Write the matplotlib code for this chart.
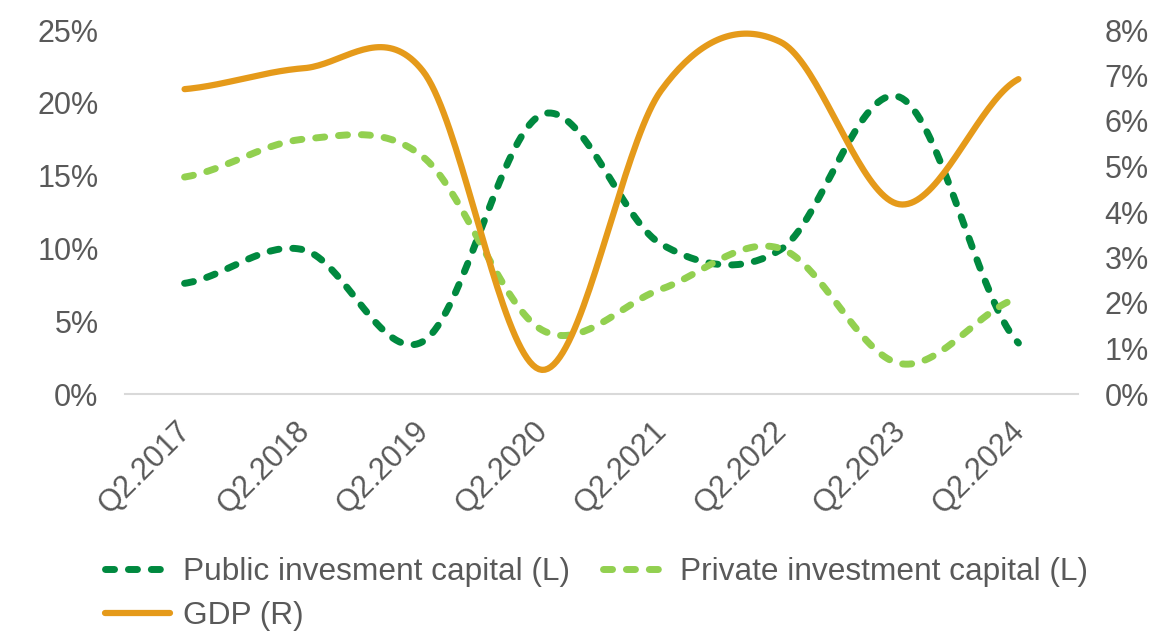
"""Public / private investment capital vs GDP, smoothed lines on two axes."""
import matplotlib
import numpy as np

matplotlib.use("Agg")
import matplotlib.pyplot as plt
from matplotlib.transforms import ScaledTranslation

plt.rcParams["font.family"] = ["Liberation Sans", "DejaVu Sans"]

quarters = ["Q2.2017", "Q2.2018", "Q2.2019", "Q2.2020",
            "Q2.2021", "Q2.2022", "Q2.2023", "Q2.2024"]
public_cap = [7.6, 9.9, 3.6, 19.2, 10.3, 9.9, 20.4, 3.5]     # % (left)
private_cap = [14.9, 17.5, 16.3, 4.4, 7.2, 10.0, 2.1, 6.6]   # % (left)
gdp = [6.70, 7.16, 7.10, 0.53, 6.67, 7.74, 4.17, 6.92]       # % (right)

DARK, LIGHT, ORANGE = "#00893F", "#92D050", "#E59A1A"
GREY = "#595959"


def smooth(y, n=40):
    """Excel-style smoothed line (Catmull-Rom through the points)."""
    y = np.asarray(y, float)
    x = np.arange(len(y), dtype=float)
    m = np.empty_like(y)
    m[1:-1] = (y[2:] - y[:-2]) / 2
    m[0], m[-1] = (y[1] - y[0]) / 2, (y[-1] - y[-2]) / 2
    xs, ys = [], []
    t = np.linspace(0, 1, n, endpoint=False)
    h00 = 2 * t**3 - 3 * t**2 + 1; h10 = t**3 - 2 * t**2 + t
    h01 = -2 * t**3 + 3 * t**2; h11 = t**3 - t**2
    for i in range(len(y) - 1):
        xs.append(x[i] + t)
        ys.append(h00 * y[i] + h10 * m[i] + h01 * y[i + 1] + h11 * m[i + 1])
    xs.append([x[-1]]); ys.append([y[-1]])
    return np.concatenate(xs), np.concatenate(ys)


W, H = 1153, 632
fig = plt.figure(figsize=(W / 100, H / 100), dpi=100)
ax = fig.add_axes([125 / W, 1 - 394 / H, (1078 - 125) / W, (394 - 30) / H])
ax2 = ax.twinx()

dash = dict(lw=5, ls=(0, (1.3, 2.0)), dash_capstyle="round")
l_pub, = ax.plot(*smooth(public_cap), color=DARK, label="Public invesment capital (L)", **dash)
l_priv, = ax.plot(*smooth(private_cap), color=LIGHT, label="Private investment capital (L)", **dash)
l_gdp, = ax2.plot(*smooth(gdp), color=ORANGE, lw=4.5, solid_capstyle="round", label="GDP (R)")

ax.set_xlim(-0.5, len(quarters) - 0.5)
ax.set_ylim(0, 25); ax2.set_ylim(0, 8)
ax.set_yticks(range(0, 26, 5)); ax.set_yticklabels([f"{v}%" for v in range(0, 26, 5)])
ax2.set_yticks(range(0, 9)); ax2.set_yticklabels([f"{v}%" for v in range(0, 9)])
ax.set_xticks(range(len(quarters)))
ax.set_xticklabels([])

for a in (ax, ax2):
    a.tick_params(length=0, labelsize=22, labelcolor=GREY, pad=19)
    for s in a.spines.values():
        s.set_visible(False)
ax.spines["bottom"].set_visible(True)
ax.spines["bottom"].set_color("#D9D9D9"); ax.spines["bottom"].set_linewidth(1.5)

# rotated category labels, top-right corner just under each category
off = ax.get_xaxis_transform() + ScaledTranslation(-0.09, -0.22, fig.dpi_scale_trans)
for i, q in enumerate(quarters):
    ax.text(i, 0, q, transform=off, rotation=45, ha="right", va="top",
            rotation_mode="anchor", fontsize=22, color=GREY)

fig.legend(handles=[l_pub, l_gdp, l_priv], ncol=2, loc="upper left",
           bbox_to_anchor=(105 / W, 1 - 557 / H), frameon=False, fontsize=22.8,
           labelcolor=GREY, handlelength=2.05, handletextpad=0.4,
           columnspacing=1.05, labelspacing=0.45, borderpad=0, borderaxespad=0)

fig.savefig("out.png", dpi=100)
